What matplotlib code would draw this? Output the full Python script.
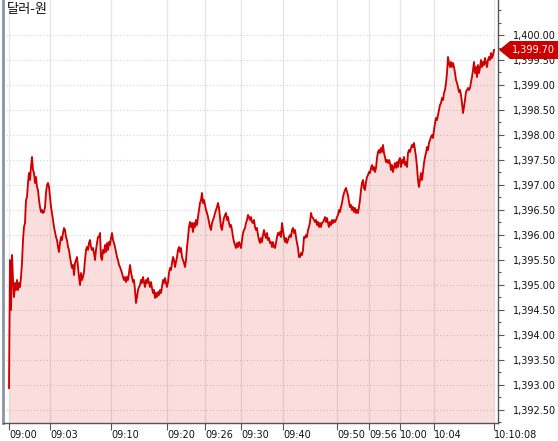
import numpy as np
import matplotlib
matplotlib.use("Agg")
import matplotlib.pyplot as plt
from matplotlib.patches import Polygon
from matplotlib.transforms import IdentityTransform
from matplotlib.ticker import MultipleLocator

plt.rcParams['font.family'] = ['DejaVu Sans', 'Noto Sans CJK KR']

title = "달러-원"

prices = [
    1392.94, 1395.50, 1394.50, 1395.60, 1395.10, 1394.76, 1395.04, 1394.90, 1395.10, 1394.90,
    1395.04, 1394.96, 1395.16, 1395.44, 1395.90, 1396.16, 1396.24, 1396.70, 1396.76, 1397.04,
    1397.24, 1397.10, 1397.36, 1397.56, 1397.30, 1397.24, 1397.04, 1397.16, 1396.96, 1396.90,
    1396.70, 1396.56, 1396.46, 1396.50, 1396.44, 1396.46, 1396.56, 1396.84, 1397.00, 1397.04,
    1396.96, 1396.76, 1396.56, 1396.44, 1396.30, 1396.16, 1396.06, 1395.96, 1395.90, 1395.76,
    1395.66, 1395.84, 1395.96, 1395.90, 1396.04, 1396.14, 1396.10, 1395.96, 1395.90, 1395.76,
    1395.70, 1395.56, 1395.44, 1395.34, 1395.40, 1395.20, 1395.44, 1395.50, 1395.56, 1395.36,
    1395.16, 1395.00, 1395.24, 1395.10, 1395.16, 1395.26, 1395.50, 1395.70, 1395.76, 1395.70,
    1395.84, 1395.90, 1395.76, 1395.70, 1395.74, 1395.64, 1395.50, 1395.70, 1395.84, 1395.96,
    1395.96, 1396.04, 1395.56, 1395.50, 1395.70, 1395.64, 1395.80, 1395.66, 1395.84, 1395.70,
    1395.86, 1395.80, 1395.94, 1396.04, 1395.90, 1395.84, 1395.76, 1395.66, 1395.56, 1395.50,
    1395.40, 1395.36, 1395.30, 1395.24, 1395.16, 1395.10, 1395.16, 1395.06, 1395.16, 1395.10,
    1395.24, 1395.40, 1395.26, 1395.16, 1395.06, 1395.10, 1394.90, 1394.64, 1394.76, 1394.90,
    1394.96, 1395.00, 1395.10, 1395.04, 1395.16, 1395.06, 1394.96, 1395.10, 1395.04, 1395.14,
    1395.04, 1394.96, 1395.06, 1394.94, 1394.84, 1394.90, 1394.74, 1394.84, 1394.76, 1394.86,
    1394.80, 1394.90, 1394.84, 1394.96, 1395.10, 1395.04, 1395.14, 1395.04, 1394.96, 1395.06,
    1395.24, 1395.34, 1395.30, 1395.44, 1395.56, 1395.50, 1395.36, 1395.46, 1395.56, 1395.70,
    1395.76, 1395.66, 1395.74, 1395.56, 1395.50, 1395.44, 1395.36, 1395.50, 1395.76, 1395.94,
    1396.16, 1396.26, 1396.16, 1396.24, 1396.06, 1396.24, 1396.16, 1396.30, 1396.20, 1396.36,
    1396.50, 1396.64, 1396.70, 1396.84, 1396.64, 1396.70, 1396.60, 1396.50, 1396.44, 1396.36,
    1396.26, 1396.16, 1396.10, 1396.24, 1396.30, 1396.36, 1396.44, 1396.50, 1396.56, 1396.64,
    1396.54, 1396.36, 1396.16, 1396.10, 1396.24, 1396.34, 1396.40, 1396.44, 1396.30, 1396.36,
    1396.24, 1396.16, 1396.20, 1396.10, 1395.96, 1395.86, 1395.80, 1395.74, 1395.84, 1395.76,
    1395.86, 1395.80, 1395.74, 1395.90, 1396.04, 1396.10, 1396.14, 1396.24, 1396.30, 1396.40,
    1396.36, 1396.30, 1396.36, 1396.26, 1396.24, 1396.30, 1396.16, 1396.10, 1396.14, 1396.00,
    1395.90, 1395.84, 1395.94, 1395.86, 1396.00, 1396.10, 1396.00, 1395.94, 1396.04, 1395.90,
    1395.94, 1395.84, 1395.86, 1395.76, 1395.86, 1395.76, 1395.74, 1395.84, 1395.96, 1396.04,
    1396.00, 1396.06, 1395.96, 1396.24, 1396.10, 1395.96, 1395.86, 1395.94, 1395.84, 1395.90,
    1395.96, 1396.00, 1395.96, 1396.10, 1396.14, 1396.04, 1396.10, 1395.96, 1395.84, 1395.74,
    1395.56, 1395.56, 1395.64, 1395.60, 1395.70, 1395.96, 1395.94, 1396.00, 1395.96, 1396.10,
    1396.16, 1396.26, 1396.44, 1396.36, 1396.34, 1396.30, 1396.26, 1396.30, 1396.20, 1396.26,
    1396.16, 1396.24, 1396.16, 1396.24, 1396.26, 1396.30, 1396.36, 1396.26, 1396.34, 1396.24,
    1396.16, 1396.26, 1396.20, 1396.30, 1396.24, 1396.30, 1396.26, 1396.30, 1396.36, 1396.40,
    1396.50, 1396.46, 1396.56, 1396.64, 1396.76, 1396.84, 1396.90, 1396.94, 1396.86, 1396.80,
    1396.66, 1396.56, 1396.60, 1396.50, 1396.56, 1396.46, 1396.54, 1396.44, 1396.50, 1396.44,
    1396.56, 1396.70, 1396.90, 1397.04, 1397.10, 1396.94, 1396.90, 1397.06, 1397.16, 1397.20,
    1397.26, 1397.24, 1397.34, 1397.40, 1397.30, 1397.36, 1397.26, 1397.34, 1397.54, 1397.66,
    1397.70, 1397.64, 1397.74, 1397.66, 1397.80, 1397.64, 1397.56, 1397.46, 1397.50, 1397.44,
    1397.50, 1397.44, 1397.30, 1397.40, 1397.26, 1397.36, 1397.44, 1397.34, 1397.46, 1397.36,
    1397.50, 1397.54, 1397.36, 1397.50, 1397.44, 1397.56, 1397.40, 1397.46, 1397.36, 1397.64,
    1397.70, 1397.66, 1397.74, 1397.80, 1397.76, 1397.84, 1397.70, 1397.56, 1397.36, 1397.10,
    1396.96, 1397.10, 1397.24, 1397.10, 1397.26, 1397.44, 1397.56, 1397.64, 1397.76, 1397.70,
    1397.84, 1397.90, 1397.96, 1398.00, 1397.94, 1398.10, 1398.24, 1398.34, 1398.30, 1398.40,
    1398.50, 1398.60, 1398.64, 1398.74, 1398.70, 1398.84, 1398.90, 1399.04, 1399.24, 1399.56,
    1399.44, 1399.36, 1399.46, 1399.36, 1399.44, 1399.36, 1399.24, 1399.10, 1399.04, 1398.96,
    1398.86, 1398.90, 1398.80, 1398.64, 1398.44, 1398.56, 1398.70, 1398.86, 1398.90, 1398.94,
    1398.90, 1398.94, 1399.06, 1399.16, 1399.30, 1399.46, 1399.24, 1399.36, 1399.16, 1399.40,
    1399.24, 1399.34, 1399.50, 1399.36, 1399.46, 1399.40, 1399.54, 1399.44, 1399.36, 1399.50,
    1399.56, 1399.50, 1399.64, 1399.54, 1399.60, 1399.70,
]

tick_index = [0, 41, 102, 158, 196, 232, 274, 328, 360, 391, 425, 485]
tick_labels = ["09:00", "09:03", "09:10", "09:20", "09:26", "09:30",
               "09:40", "09:50", "09:56", "10:00", "10:04", "10:10:08"]
y_ticks = [1392.5, 1393.0, 1393.5, 1394.0, 1394.5, 1395.0, 1395.5, 1396.0,
           1396.5, 1397.0, 1397.5, 1398.0, 1398.5, 1399.0, 1399.5, 1400.0]
y_min, y_max = 1392.24, 1400.70

W, H = 558, 441
fig = plt.figure(figsize=(W / 100, H / 100), dpi=100)
ax = fig.add_axes([3 / W, 18 / H, 495 / W, 423 / H])

x = np.arange(len(prices))
ax.fill_between(x, prices, y_min, color='#dc0000', alpha=0.13, lw=0, zorder=2)
ax.plot(x, prices, color='#d10000', lw=1.35, zorder=3)

ax.set_xlim(-6, 489)
ax.set_ylim(y_min, y_max)

ax.yaxis.tick_right()
ax.set_yticks(y_ticks)
ax.set_yticklabels([f"{v:,.2f}" for v in y_ticks], fontsize=7, color='#111111')
ax.yaxis.set_minor_locator(MultipleLocator(0.25))
ax.tick_params(axis='y', which='major', length=4, width=0.8, color='#555555', pad=7)
ax.tick_params(axis='y', which='minor', length=2, width=0.8, color='#555555')

ax.set_xticks(tick_index)
ax.set_xticklabels(tick_labels, fontsize=7, color='#111111')
for lab in ax.get_xticklabels():
    lab.set_horizontalalignment('left')
ax.tick_params(axis='x', length=5, width=0.8, color='#555555', pad=0)

ax.grid(axis='x', color='#e6e6e6', lw=1.0, ls='-', zorder=1)
ax.grid(axis='y', color='#d4d4d4', lw=0.8, ls=(0, (1, 2)), zorder=1)
ax.set_axisbelow(True)

ax.spines['top'].set_visible(False)
ax.spines['left'].set_color('#8796a6')
ax.spines['left'].set_linewidth(2.0)
ax.spines['right'].set_color('#555555')
ax.spines['right'].set_linewidth(1.0)
ax.spines['bottom'].set_color('#555555')
ax.spines['bottom'].set_linewidth(1.0)

fig.text(7 / W, 1 - 10 / H, title, fontsize=9.5, va='center', ha='left',
         family=['Noto Sans CJK KR', 'DejaVu Sans'], color='#111111')

# current value marker
x0, y0 = ax.transData.transform((ax.get_xlim()[1], prices[-1]))
h = 9
verts = [(x0 + 1, y0), (x0 + 12, y0 + h), (W, y0 + h), (W, y0 - h), (x0 + 12, y0 - h)]
fig.add_artist(Polygon(verts, closed=True, transform=IdentityTransform(),
                       facecolor='#cc0000', edgecolor='none', zorder=10))
fig.text(x0 + 14, y0, f"{prices[-1]:,.2f}", transform=IdentityTransform(),
         fontsize=7, color='white', va='center', ha='left', zorder=11)

fig.savefig("out.png", dpi=100)
